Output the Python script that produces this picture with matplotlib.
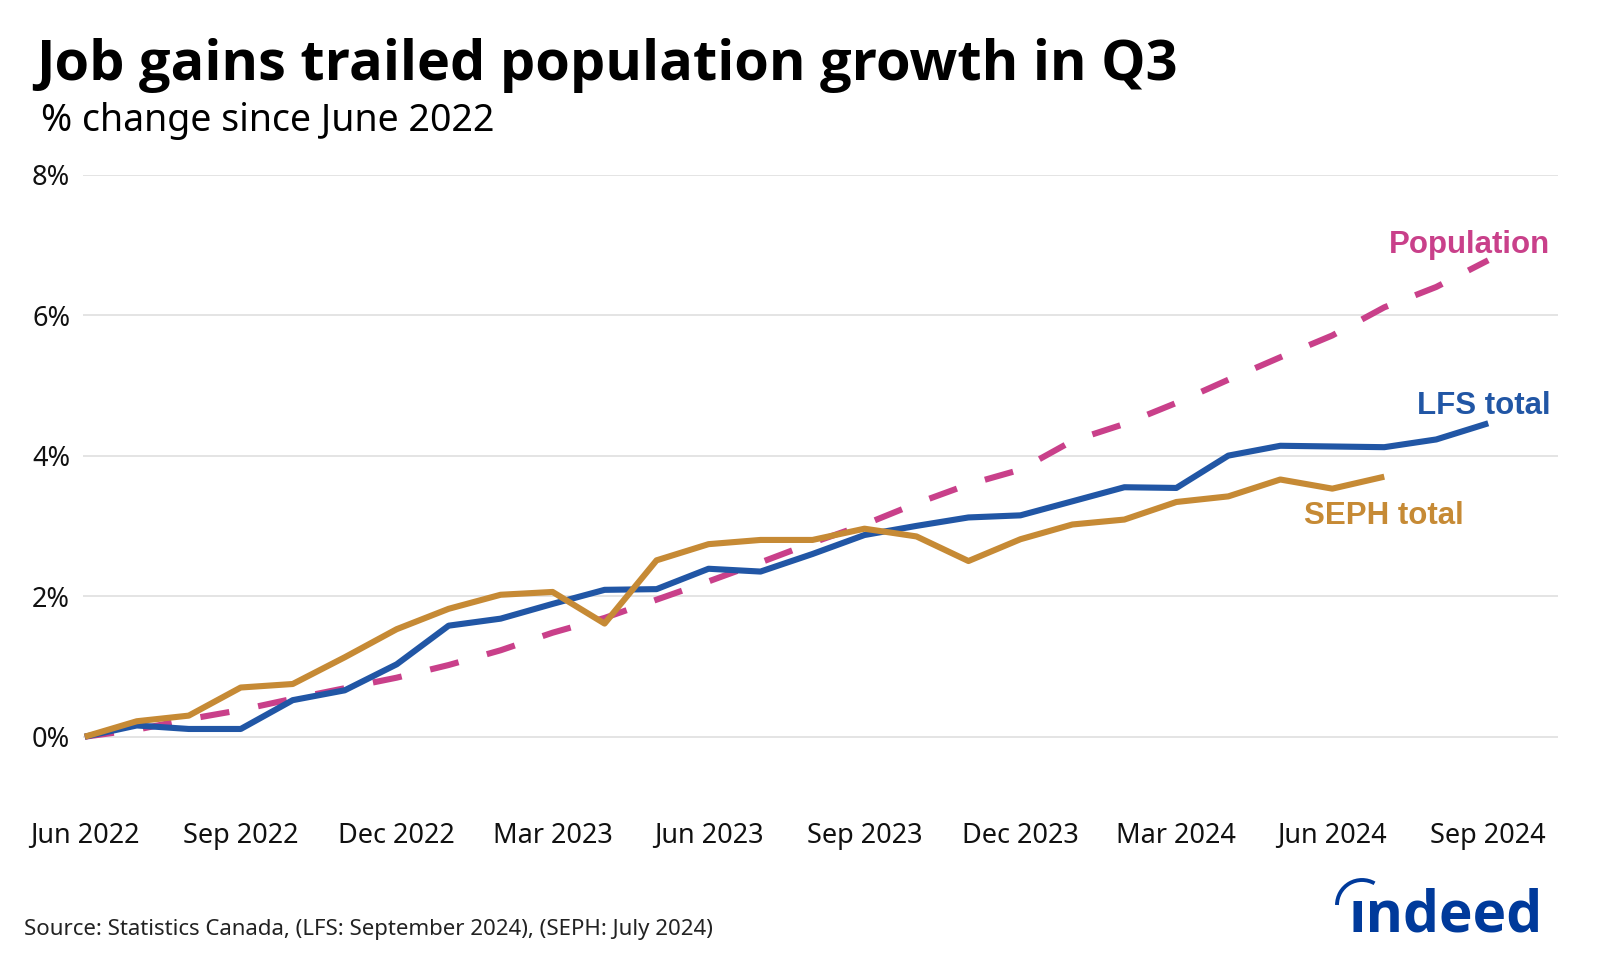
'''
Job gains vs population growth since June 2022 (LFS, SEPH, population).
'''

import matplotlib
matplotlib.use('Agg')
import matplotlib.pyplot as plt
from matplotlib.patches import Arc
import numpy as np

# months Jun 2022 .. Sep 2024
months = ['Jun 2022', 'Jul 2022', 'Aug 2022', 'Sep 2022', 'Oct 2022', 'Nov 2022',
          'Dec 2022', 'Jan 2023', 'Feb 2023', 'Mar 2023', 'Apr 2023', 'May 2023',
          'Jun 2023', 'Jul 2023', 'Aug 2023', 'Sep 2023', 'Oct 2023', 'Nov 2023',
          'Dec 2023', 'Jan 2024', 'Feb 2024', 'Mar 2024', 'Apr 2024', 'May 2024',
          'Jun 2024', 'Jul 2024', 'Aug 2024', 'Sep 2024']

population = [0.00, 0.10, 0.25, 0.38, 0.54, 0.69, 0.84, 1.02, 1.23, 1.48,
              1.69, 1.95, 2.21, 2.48, 2.76, 3.02, 3.32, 3.59, 3.80, 4.21,
              4.45, 4.75, 5.08, 5.40, 5.71, 6.11, 6.40, 6.78]

lfs_total = [0.00, 0.16, 0.11, 0.11, 0.52, 0.66, 1.03, 1.58, 1.68, 1.89,
             2.09, 2.10, 2.39, 2.35, 2.60, 2.87, 3.00, 3.12, 3.15, 3.35,
             3.55, 3.54, 4.00, 4.14, 4.13, 4.12, 4.23, 4.46]

# SEPH only runs to Jul 2024
seph_total = [0.00, 0.22, 0.30, 0.70, 0.75, 1.13, 1.53, 1.82, 2.02, 2.06,
              1.61, 2.51, 2.74, 2.80, 2.80, 2.96, 2.85, 2.50, 2.81, 3.02,
              3.09, 3.34, 3.42, 3.66, 3.53, 3.70]

tick_months = ['Jun 2022', 'Sep 2022', 'Dec 2022', 'Mar 2023', 'Jun 2023',
               'Sep 2023', 'Dec 2023', 'Mar 2024', 'Jun 2024', 'Sep 2024']
y_ticks = [0, 2, 4, 6, 8]

BLUE = '#2156A5'
GOLD = '#C68A35'
PINK = '#C9408A'
LOGO = '#003A9B'

plt.rcParams['font.family'] = ['Noto Sans', 'DejaVu Sans']

fig = plt.figure(figsize=(16, 9.6), dpi=100)
ax = fig.add_axes([0.0517, 0.1594, 0.9223, 0.6588])

x_all = np.arange(len(months))
ax.plot(x_all, population, color=PINK, lw=4.4, dashes=(4.8, 4.8),
        dash_capstyle='butt', zorder=3)
ax.plot(x_all, lfs_total, color=BLUE, lw=4.4, solid_capstyle='butt', zorder=4)
ax.plot(x_all[:len(seph_total)], seph_total, color=GOLD, lw=4.4,
        solid_capstyle='butt', zorder=5)

ax.set_xlim(-0.04, 28.35)
ax.set_ylim(-1, 8)
ax.set_yticks(y_ticks)
ax.set_yticklabels([f'{v}%' for v in y_ticks])
ax.set_xticks([months.index(m) for m in tick_months])
ax.set_xticklabels(tick_months)
ax.tick_params(axis='both', length=0, labelsize=19.5, colors='#111111')
ax.tick_params(axis='x', pad=11)
ax.tick_params(axis='y', pad=9)
ax.grid(axis='y', color='#DDDDDD', lw=1.1)
ax.set_axisbelow(True)
for s in ax.spines.values():
    s.set_visible(False)

lab = dict(family=['Liberation Sans', 'DejaVu Sans'], fontweight='bold',
           fontsize=22.5, ha='right', va='baseline')
ax.text(28.2, 6.89, 'Population', color=PINK, **lab)
ax.text(28.2, 4.59, 'LFS total', color=BLUE, **lab)
ax.text(26.52, 3.03, 'SEPH total', color=GOLD, **lab)

fig.text(0.0225, 1 - 80 / 960, 'Job gains trailed population growth in Q3',
         fontsize=40.2, fontweight='bold', va='baseline', ha='left',
         family=['Open Sans', 'DejaVu Sans'])
fig.text(0.0256, 1 - 131 / 960, '% change since June 2022',
         fontsize=27, va='baseline', ha='left')
fig.text(0.0153, 1 - 935 / 960,
         'Source: Statistics Canada, (LFS: September 2024), (SEPH: July 2024)',
         fontsize=16, va='baseline', ha='left', color='#222222')

# indeed logo, drawn on an overlay in pixel coordinates
over = fig.add_axes([0, 0, 1, 1], zorder=10)
over.set_xlim(0, 1600)
over.set_ylim(960, 0)
over.axis('off')
over.text(1543, 931, 'ındeed', fontsize=41, fontweight='bold', color=LOGO,
          ha='right', va='baseline', family=['Open Sans', 'DejaVu Sans'])
over.add_patch(Arc((1362, 905), 50, 50, theta1=180, theta2=300,
                   color=LOGO, lw=2.8))

fig.savefig('out.png', dpi=100)
